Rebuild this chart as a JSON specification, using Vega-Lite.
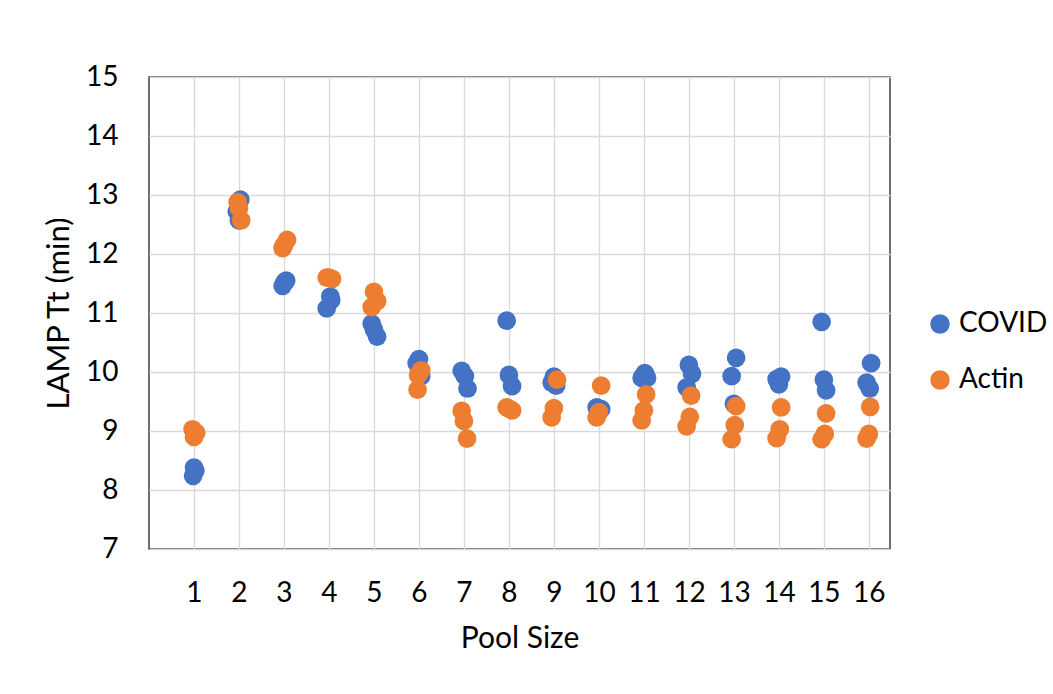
{
  "$schema": "https://vega.github.io/schema/vega-lite/v6.json",
  "autosize": "none",
  "width": 741,
  "height": 472,
  "padding": {"left": 149, "top": 77, "right": 163, "bottom": 145},
  "background": "white",
  "config": {
    "font": "Lato",
    "view": {"stroke": "#404040", "strokeWidth": 1.5},
    "axis": {"grid": true, "gridColor": "#D9D9D9", "gridWidth": 1.3, "domain": false, "ticks": false, "tickSize": 0, "labelColor": "#000000", "titleColor": "#000000", "labelFont": "Lato", "titleFont": "Lato", "labelFontWeight": "normal", "titleFontWeight": "normal"}
  },
  "data": {"values": [
    {"s":"COVID","x":0.98,"y":8.24},{"s":"COVID","x":1.03,"y":8.33},{"s":"COVID","x":1.0,"y":8.38},
    {"s":"COVID","x":2.03,"y":12.92},{"s":"COVID","x":1.95,"y":12.72},{"s":"COVID","x":2.0,"y":12.57},
    {"s":"COVID","x":3.02,"y":11.53},{"s":"COVID","x":3.05,"y":11.55},{"s":"COVID","x":2.97,"y":11.46},
    {"s":"COVID","x":4.03,"y":11.28},{"s":"COVID","x":4.05,"y":11.22},{"s":"COVID","x":3.95,"y":11.08},
    {"s":"COVID","x":4.95,"y":10.82},{"s":"COVID","x":5.0,"y":10.72},{"s":"COVID","x":5.07,"y":10.6},
    {"s":"COVID","x":6.0,"y":10.22},{"s":"COVID","x":5.95,"y":10.15},{"s":"COVID","x":6.05,"y":9.93},
    {"s":"COVID","x":6.95,"y":10.02},{"s":"COVID","x":7.02,"y":9.93},{"s":"COVID","x":7.08,"y":9.72},
    {"s":"COVID","x":7.95,"y":10.87},{"s":"COVID","x":8.0,"y":9.95},{"s":"COVID","x":8.07,"y":9.76},
    {"s":"COVID","x":9.0,"y":9.92},{"s":"COVID","x":8.95,"y":9.82},{"s":"COVID","x":9.05,"y":9.77},
    {"s":"COVID","x":9.95,"y":9.4},{"s":"COVID","x":10.05,"y":9.37},{"s":"COVID","x":10.0,"y":9.38},
    {"s":"COVID","x":11.02,"y":9.98},{"s":"COVID","x":11.07,"y":9.9},{"s":"COVID","x":10.95,"y":9.9},
    {"s":"COVID","x":12.0,"y":10.12},{"s":"COVID","x":12.07,"y":9.97},{"s":"COVID","x":11.95,"y":9.74},
    {"s":"COVID","x":13.05,"y":10.24},{"s":"COVID","x":12.95,"y":9.93},{"s":"COVID","x":13.0,"y":9.46},
    {"s":"COVID","x":14.05,"y":9.92},{"s":"COVID","x":13.95,"y":9.88},{"s":"COVID","x":14.0,"y":9.79},
    {"s":"COVID","x":14.95,"y":10.85},{"s":"COVID","x":15.0,"y":9.87},{"s":"COVID","x":15.05,"y":9.69},
    {"s":"COVID","x":16.05,"y":10.15},{"s":"COVID","x":15.95,"y":9.82},{"s":"COVID","x":16.02,"y":9.72},
    {"s":"Actin","x":0.97,"y":9.03},{"s":"Actin","x":1.05,"y":8.97},{"s":"Actin","x":1.0,"y":8.9},
    {"s":"Actin","x":1.97,"y":12.88},{"s":"Actin","x":2.0,"y":12.78},{"s":"Actin","x":2.05,"y":12.57},
    {"s":"Actin","x":3.07,"y":12.24},{"s":"Actin","x":2.97,"y":12.1},{"s":"Actin","x":3.0,"y":12.15},
    {"s":"Actin","x":3.95,"y":11.6},{"s":"Actin","x":4.07,"y":11.58},{"s":"Actin","x":4.0,"y":11.6},
    {"s":"Actin","x":5.0,"y":11.36},{"s":"Actin","x":5.07,"y":11.2},{"s":"Actin","x":4.95,"y":11.1},
    {"s":"Actin","x":6.05,"y":10.03},{"s":"Actin","x":5.98,"y":9.95},{"s":"Actin","x":5.97,"y":9.7},
    {"s":"Actin","x":6.95,"y":9.34},{"s":"Actin","x":7.0,"y":9.17},{"s":"Actin","x":7.07,"y":8.87},
    {"s":"Actin","x":7.95,"y":9.4},{"s":"Actin","x":8.07,"y":9.35},{"s":"Actin","x":8.0,"y":9.38},
    {"s":"Actin","x":9.07,"y":9.87},{"s":"Actin","x":9.0,"y":9.39},{"s":"Actin","x":8.95,"y":9.23},
    {"s":"Actin","x":10.05,"y":9.77},{"s":"Actin","x":10.0,"y":9.32},{"s":"Actin","x":9.95,"y":9.23},
    {"s":"Actin","x":11.05,"y":9.62},{"s":"Actin","x":11.0,"y":9.35},{"s":"Actin","x":10.95,"y":9.18},
    {"s":"Actin","x":12.05,"y":9.6},{"s":"Actin","x":12.02,"y":9.24},{"s":"Actin","x":11.95,"y":9.08},
    {"s":"Actin","x":13.05,"y":9.42},{"s":"Actin","x":13.02,"y":9.1},{"s":"Actin","x":12.95,"y":8.86},
    {"s":"Actin","x":14.05,"y":9.4},{"s":"Actin","x":14.02,"y":9.03},{"s":"Actin","x":13.95,"y":8.88},
    {"s":"Actin","x":15.05,"y":9.3},{"s":"Actin","x":15.02,"y":8.95},{"s":"Actin","x":14.95,"y":8.86},
    {"s":"Actin","x":16.03,"y":9.41},{"s":"Actin","x":16.0,"y":8.95},{"s":"Actin","x":15.95,"y":8.87}
  ]},
  "mark": {"type": "point", "filled": true, "opacity": 1, "size": 350, "shape": "circle"},
  "encoding": {
    "x": {"field": "x", "type": "quantitative", "title": "Pool Size",
      "scale": {"domain": [0, 16.47], "nice": false, "zero": false},
      "axis": {"values": [1,2,3,4,5,6,7,8,9,10,11,12,13,14,15,16], "labelFontSize": 28, "labelPadding": 30, "titleFontSize": 30, "titlePadding": 16, "labelFlush": false}},
    "y": {"field": "y", "type": "quantitative", "title": "LAMP Tt (min)",
      "scale": {"domain": [7, 15], "nice": false, "zero": false},
      "axis": {"values": [7,8,9,10,11,12,13,14,15], "labelFontSize": 28, "labelPadding": 31, "titleFontSize": 31, "titlePadding": 10, "labelFlush": false}},
    "color": {"field": "s", "type": "nominal",
      "scale": {"domain": ["COVID", "Actin"], "range": ["#4472C4", "#ED7D31"]},
      "legend": {"title": null, "orient": "none", "legendX": 777, "legendY": 233, "symbolSize": 380, "symbolType": "circle", "labelFontSize": 28, "labelFont": "Lato", "labelColor": "#000000", "labelOffset": 5, "rowPadding": 28, "padding": 0}}
  }
}
